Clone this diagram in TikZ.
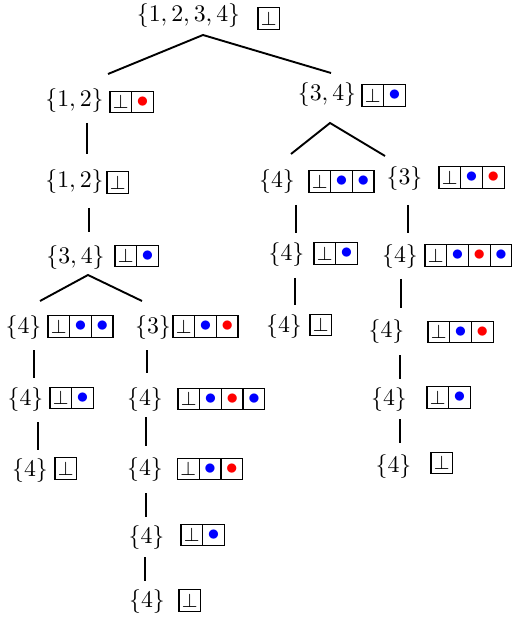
\documentclass[tikz,border=0pt]{standalone}
\usetikzlibrary{calc}
\newcommand\cbot{{\footnotesize$\bot$}}
\newcommand\cblu{\textcolor{blue}{$\bullet$}}
\newcommand\cred{\textcolor{red}{$\bullet$}}
\tikzset{
  cell/.style={draw, line width=0.5pt, minimum width=9.1pt, minimum height=9.1pt, inner sep=0pt, anchor=center},
  lab/.style={inner sep=0pt, anchor=center},
  edge/.style={line width=0.8pt},
}
\newcommand\stk[4]{%
  \foreach \cc [count=\ii] in {#4} {
    \node[cell] (#1-\ii) at ({#2+(\ii-0.5)*21.7},#3) {\cc};
  }%
}
\begin{document}
\begin{tikzpicture}[x=0.42pt,y=-0.42pt]
\useasboundingbox (0,0) rectangle (511,621);
% root
\node[lab] (root) at (188.5,15.5) {$\{1,2,3,4\}$};
\stk{root-c}{258}{18.5}{\cbot}
% left branch
\node[lab] (L1) at (74.5,100.5) {$\{1,2\}$};
\stk{L1-c}{110}{102}{\cbot,\cred}
\node[lab] (L2) at (74.5,181.5) {$\{1,2\}$};
\stk{L2-c}{107}{182.5}{\cbot}
\node[lab] (L3) at (75.5,258) {$\{3,4\}$};
\stk{L3-c}{115}{256}{\cbot,\cblu}
\node[lab] (L4a) at (23.5,327.5) {$\{4\}$};
\stk{L4a-c}{48}{326.5}{\cbot,\cblu,\cblu}
\node[lab] (L4b) at (153,327.5) {$\{3\}$};
\stk{L4b-c}{173}{326.5}{\cbot,\cblu,\cred}
\node[lab] (L5a) at (25.5,399.5) {$\{4\}$};
\stk{L5a-c}{50}{398}{\cbot,\cblu}
\node[lab] (L5b) at (145,400) {$\{4\}$};
\stk{L5b-c}{178}{399}{\cbot,\cblu,\cred,\cblu}
\node[lab] (L6a) at (30,470.5) {$\{4\}$};
\stk{L6a-c}{55}{468.5}{\cbot}
\node[lab] (L6b) at (145,469.5) {$\{4\}$};
\stk{L6b-c}{177.5}{469}{\cbot,\cblu,\cred}
\node[lab] (L7) at (146.5,538) {$\{4\}$};
\stk{L7-c}{181}{535}{\cbot,\cblu}
\node[lab] (L8) at (147,602) {$\{4\}$};
\stk{L8-c}{179}{600.5}{\cbot}
% right branch
\node[lab] (R1) at (327,95) {$\{3,4\}$};
\stk{R1-c}{362}{95.5}{\cbot,\cblu}
\node[lab] (R2a) at (277,182) {$\{4\}$};
\stk{R2a-c}{309}{181.5}{\cbot,\cblu,\cblu}
\node[lab] (R2b) at (404.5,179) {$\{3\}$};
\stk{R2b-c}{439}{177.5}{\cbot,\cblu,\cred}
\node[lab] (R3a) at (286.5,255) {$\{4\}$};
\stk{R3a-c}{314}{253.5}{\cbot,\cblu}
\node[lab] (R3b) at (400,256.5) {$\{4\}$};
\stk{R3b-c}{425}{255.5}{\cbot,\cblu,\cred,\cblu}
\node[lab] (R4a) at (284,327) {$\{4\}$};
\stk{R4a-c}{310}{325}{\cbot}
\node[lab] (R4b) at (386.5,332) {$\{4\}$};
\stk{R4b-c}{428}{332}{\cbot,\cblu,\cred}
\node[lab] (R5) at (389,400) {$\{4\}$};
\stk{R5-c}{427}{397.5}{\cbot,\cblu}
\node[lab] (R6) at (393.5,467) {$\{4\}$};
\stk{R6-c}{431}{463}{\cbot}
% edge end points
\coordinate (root-bot) at (203,35);
\coordinate (L1-top) at (108,74);
\coordinate (R1-top) at (331,73);
\coordinate (L1-bot) at (87,123);
\coordinate (L2-top) at (87,154);
\coordinate (L2-bot) at (89,208);
\coordinate (L3-top) at (89,232);
\coordinate (L3-bot) at (88,275);
\coordinate (L4a-top) at (40,301);
\coordinate (L4b-top) at (142,301);
\coordinate (L4a-bot) at (34,350);
\coordinate (L5a-top) at (34,378);
\coordinate (L4b-bot) at (147,350);
\coordinate (L5b-top) at (147,373);
\coordinate (L5a-bot) at (38,422);
\coordinate (L6a-top) at (38,450);
\coordinate (L5b-bot) at (146,417);
\coordinate (L6b-top) at (146,446);
\coordinate (L6b-bot) at (146,493);
\coordinate (L7-top) at (146,517);
\coordinate (L7-bot) at (145,557);
\coordinate (L8-top) at (145,581);
\coordinate (R1-bot) at (330,123);
\coordinate (R2a-top) at (291,154);
\coordinate (R2b-top) at (385,156);
\coordinate (R2a-bot) at (296,205);
\coordinate (R3a-top) at (296,233);
\coordinate (R2b-bot) at (408,205);
\coordinate (R3b-top) at (408,233);
\coordinate (R3a-bot) at (295,278);
\coordinate (R4a-top) at (295,305);
\coordinate (R3b-bot) at (401,279);
\coordinate (R4b-top) at (401,308);
\coordinate (R4b-bot) at (400,355);
\coordinate (R5-top) at (400,379);
\coordinate (R5-bot) at (400,419);
\coordinate (R6-top) at (400,443);
% edges
\draw[edge] (L1-top) -- (root-bot) -- (R1-top);
\draw[edge] (L1-bot) -- (L2-top);
\draw[edge] (L2-bot) -- (L3-top);
\draw[edge] (L4a-top) -- (L3-bot) -- (L4b-top);
\draw[edge] (L4a-bot) -- (L5a-top);
\draw[edge] (L4b-bot) -- (L5b-top);
\draw[edge] (L5a-bot) -- (L6a-top);
\draw[edge] (L5b-bot) -- (L6b-top);
\draw[edge] (L6b-bot) -- (L7-top);
\draw[edge] (L7-bot) -- (L8-top);
\draw[edge] (R2a-top) -- (R1-bot) -- (R2b-top);
\draw[edge] (R2a-bot) -- (R3a-top);
\draw[edge] (R2b-bot) -- (R3b-top);
\draw[edge] (R3a-bot) -- (R4a-top);
\draw[edge] (R3b-bot) -- (R4b-top);
\draw[edge] (R4b-bot) -- (R5-top);
\draw[edge] (R5-bot) -- (R6-top);
\end{tikzpicture}
\end{document}
